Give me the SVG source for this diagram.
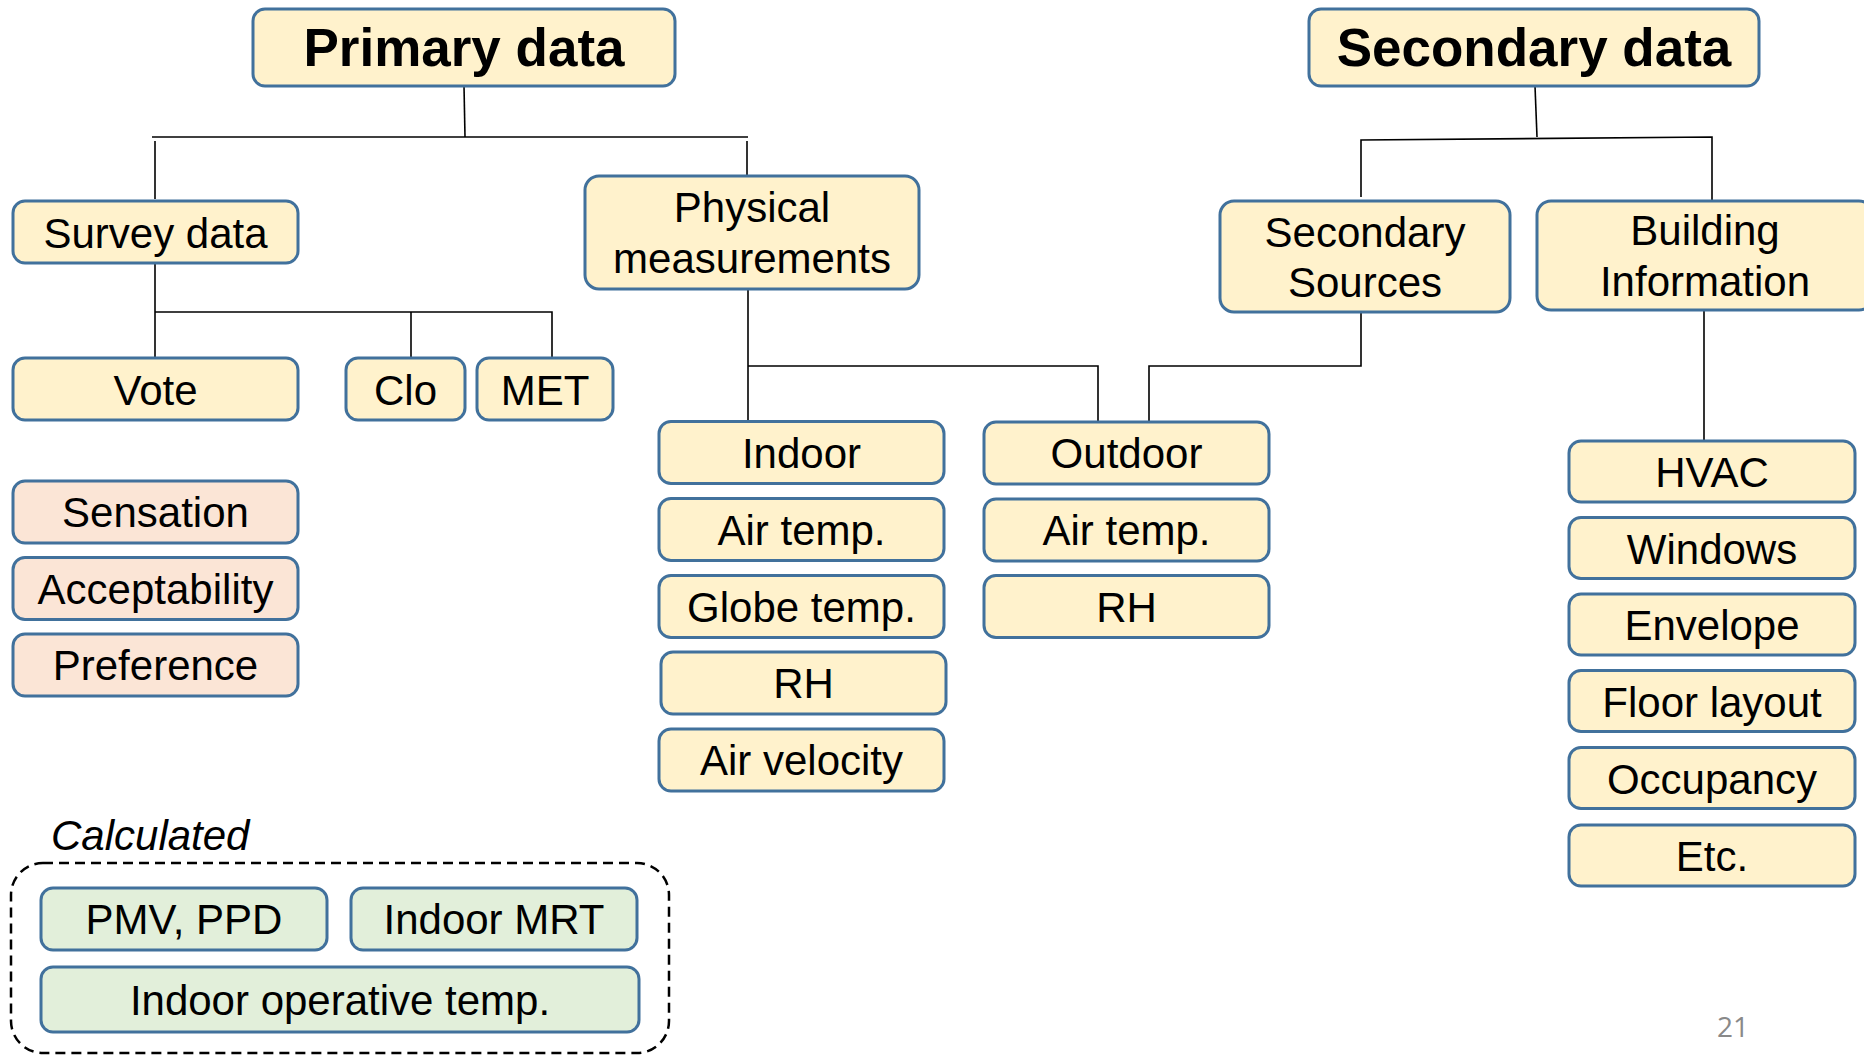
<svg xmlns="http://www.w3.org/2000/svg" width="1864" height="1057" viewBox="0 0 1864 1057">
<style>
.box{stroke:#41719C;stroke-width:3;}
.y{fill:#FFF2CC;}
.p{fill:#FBE5D6;}
.g{fill:#E2EFDA;}
.t{font-family:"Liberation Sans",Arial,sans-serif;font-size:42px;fill:#000;text-anchor:middle;}
.h{font-family:"Liberation Sans",Arial,sans-serif;font-size:53px;font-weight:bold;fill:#000;text-anchor:middle;}
.c{fill:none;stroke:#000;stroke-width:1.6;}
</style>
<rect width="1864" height="1057" fill="#fff"/>
<g id="connectors">
<polyline class="c" points="464,86 465,137"/>
<polyline class="c" points="152,137 748,137"/>
<polyline class="c" points="155,141 155,199"/>
<polyline class="c" points="747,141 747,176"/>
<polyline class="c" points="155,263 155,358"/>
<polyline class="c" points="155,312 552,312 552,358"/>
<polyline class="c" points="411,312 411,358"/>
<polyline class="c" points="748,289 748,421"/>
<polyline class="c" points="748,366 1098,366 1098,421"/>
<polyline class="c" points="1149,421 1149,366 1361,366 1361,312"/>
<polyline class="c" points="1535,86 1537,137"/>
<polyline class="c" points="1361,197 1361,140 1712,137 1712,201"/>
<polyline class="c" points="1704,310 1704,441"/>
</g>
<g id="primary"><rect class="box y" x="253" y="9" width="422" height="77" rx="12"/><text class="h" x="464" y="66">Primary data</text></g>
<g id="secondary"><rect class="box y" x="1309" y="9" width="450" height="77" rx="12"/><text class="h" x="1534" y="66">Secondary data</text></g>
<g id="survey"><rect class="box y" x="13" y="201" width="285" height="62" rx="12"/><text class="t" x="155.5" y="248">Survey data</text></g>
<g id="physical"><rect class="box y" x="585" y="176" width="334" height="113" rx="14"/><text class="t" x="752" y="222">Physical</text><text class="t" x="752" y="273">measurements</text></g>
<g id="secsources"><rect class="box y" x="1220" y="201" width="290" height="111" rx="14"/><text class="t" x="1365" y="247">Secondary</text><text class="t" x="1365" y="297">Sources</text></g>
<g id="building"><rect class="box y" x="1537" y="201" width="336" height="109" rx="14"/><text class="t" x="1705" y="245">Building</text><text class="t" x="1705" y="296">Information</text></g>
<g id="vote"><rect class="box y" x="13" y="358" width="285" height="62" rx="12"/><text class="t" x="155.5" y="405">Vote</text></g>
<g id="clo"><rect class="box y" x="346" y="358" width="119" height="62" rx="12"/><text class="t" x="405.5" y="405">Clo</text></g>
<g id="met"><rect class="box y" x="477" y="358" width="136" height="62" rx="12"/><text class="t" x="545" y="405">MET</text></g>
<g id="sensation"><rect class="box p" x="13" y="481" width="285" height="62" rx="12"/><text class="t" x="155.5" y="527">Sensation</text></g>
<g id="acceptability"><rect class="box p" x="13" y="557.5" width="285" height="62" rx="12"/><text class="t" x="155.5" y="604">Acceptability</text></g>
<g id="preference"><rect class="box p" x="13" y="634" width="285" height="62" rx="12"/><text class="t" x="155.5" y="680">Preference</text></g>
<g id="indoor"><rect class="box y" x="659" y="421.5" width="285" height="62" rx="12"/><text class="t" x="801.5" y="468">Indoor</text></g>
<g id="in-airtemp"><rect class="box y" x="659" y="498.5" width="285" height="62" rx="12"/><text class="t" x="801.5" y="545">Air temp.</text></g>
<g id="in-globe"><rect class="box y" x="659" y="575.5" width="285" height="62" rx="12"/><text class="t" x="801.5" y="622">Globe temp.</text></g>
<g id="in-rh"><rect class="box y" x="661" y="652" width="285" height="62" rx="12"/><text class="t" x="803.5" y="698">RH</text></g>
<g id="in-velocity"><rect class="box y" x="659" y="729" width="285" height="62" rx="12"/><text class="t" x="801.5" y="775">Air velocity</text></g>
<g id="outdoor"><rect class="box y" x="984" y="422" width="285" height="62" rx="12"/><text class="t" x="1126.5" y="468">Outdoor</text></g>
<g id="out-airtemp"><rect class="box y" x="984" y="499" width="285" height="62" rx="12"/><text class="t" x="1126.5" y="545">Air temp.</text></g>
<g id="out-rh"><rect class="box y" x="984" y="575.5" width="285" height="62" rx="12"/><text class="t" x="1126.5" y="622">RH</text></g>
<g id="hvac"><rect class="box y" x="1569" y="441" width="286" height="61" rx="12"/><text class="t" x="1712" y="487">HVAC</text></g>
<g id="windows"><rect class="box y" x="1569" y="517.5" width="286" height="61" rx="12"/><text class="t" x="1712" y="564">Windows</text></g>
<g id="envelope"><rect class="box y" x="1569" y="594" width="286" height="61" rx="12"/><text class="t" x="1712" y="640">Envelope</text></g>
<g id="floorlayout"><rect class="box y" x="1569" y="670.5" width="286" height="61" rx="12"/><text class="t" x="1712" y="717">Floor layout</text></g>
<g id="occupancy"><rect class="box y" x="1569" y="747.5" width="286" height="61" rx="12"/><text class="t" x="1712" y="794">Occupancy</text></g>
<g id="etc"><rect class="box y" x="1569" y="825" width="286" height="61" rx="12"/><text class="t" x="1712" y="871">Etc.</text></g>
<g id="calculated">
<text x="51" y="850" font-family="'Liberation Sans',Arial,sans-serif" font-size="42" font-style="italic" fill="#000">Calculated</text>
<rect x="11" y="863" width="658" height="190" rx="32" fill="none" stroke="#000" stroke-width="2.5" stroke-dasharray="10 6"/>
</g>
<g id="pmv"><rect class="box g" x="41" y="888" width="286" height="62" rx="12"/><text class="t" x="184" y="934">PMV, PPD</text></g>
<g id="mrt"><rect class="box g" x="351" y="888" width="286" height="62" rx="12"/><text class="t" x="494" y="934">Indoor MRT</text></g>
<g id="operative"><rect class="box g" x="41" y="967" width="598" height="65" rx="12"/><text class="t" x="340" y="1015">Indoor operative temp.</text></g>
<text x="1733" y="1037" font-family="'Open Sans','Liberation Sans',sans-serif" font-size="28" fill="#898989" text-anchor="middle">21</text>
</svg>
